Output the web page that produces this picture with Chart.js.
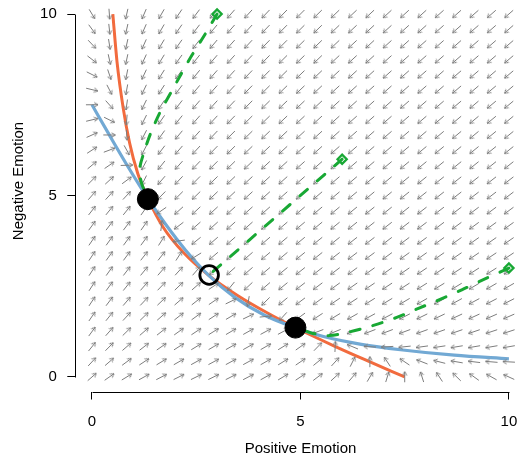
<!DOCTYPE html>
<html>
<head>
<meta charset="utf-8">
<script src="https://cdn.jsdelivr.net/npm/chart.js@4.4.1/dist/chart.umd.min.js"></script>
<style>
html,body{margin:0;padding:0;background:#ffffff;}
#wrap{width:521px;height:458px;position:relative;}
</style>
</head>
<body>
<div id="wrap"><canvas id="c" width="521" height="458"></canvas></div>
<script>
// ---- tick labels ----
const xTicks = [0, 5, 10];
const yTicks = [0, 5, 10];

// ---- positions of the flow-field arrows (25 x 25 grid) ----
const gridX = [0, 0.4167, 0.8333, 1.25, 1.6667, 2.0833, 2.5, 2.9167, 3.3333, 3.75, 4.1667, 4.5833, 5,
               5.4167, 5.8333, 6.25, 6.6667, 7.0833, 7.5, 7.9167, 8.3333, 8.75, 9.1667, 9.5833, 10];
const gridY = [0, 0.4167, 0.8333, 1.25, 1.6667, 2.0833, 2.5, 2.9167, 3.3333, 3.75, 4.1667, 4.5833, 5,
               5.4167, 5.8333, 6.25, 6.6667, 7.0833, 7.5, 7.9167, 8.3333, 8.75, 9.1667, 9.5833, 10];

// ---- model parameters (estimated from the nullclines) ----
const baseRate = 3.8;      // constant input
const selfExcite = 2.61;   // linear self term
const selfLimit = 0.415;   // quadratic self limitation
const crossInhib = 1.0;    // mutual inhibition
const saturation = 0.06;   // rate saturation

// ---- nullclines ----
const orangeX = [0.5, 0.6, 0.75, 0.9, 1.1, 1.35, 1.7, 2.2, 2.8, 3.5, 4.2, 4.9, 5.8, 6.6, 7.5];
const orangeY = [10, 8.69, 7.4, 6.46, 5.6, 4.9, 4.14, 3.42, 2.8, 2.24, 1.77, 1.35, 0.86, 0.45, 0];
const blueX = [0, 0.45, 0.86, 1.35, 1.77, 2.24, 2.8, 3.42, 4.14, 4.9, 5.6, 6.46, 7.4, 8.69, 10];
const blueY = [7.5, 6.6, 5.8, 4.9, 4.2, 3.5, 2.8, 2.2, 1.7, 1.35, 1.1, 0.9, 0.75, 0.6, 0.5];

// ---- trajectories ----
const traj1X = [3.0, 2.69, 2.4, 2.14, 1.89, 1.64, 1.42, 1.25, 1.14, 1.2, 1.3, 1.36];
const traj1Y = [10, 9.4, 8.87, 8.35, 7.83, 7.31, 6.75, 6.2, 5.7, 5.3, 5.05, 4.88];
const traj2X = [6.0, 5.2, 4.4, 3.6, 2.85];
const traj2Y = [6.0, 5.2, 4.4, 3.6, 2.85];
const traj3X = [10, 9.4, 8.87, 8.35, 7.83, 7.31, 6.75, 6.2, 5.7, 5.3, 5.05, 4.88];
const traj3Y = [3.0, 2.69, 2.4, 2.14, 1.89, 1.64, 1.42, 1.25, 1.14, 1.2, 1.3, 1.36];
const startX = [3, 6, 10];
const startY = [10, 6, 3];

// ---- equilibria ----
const stableX = [1.34, 4.88];
const stableY = [4.9, 1.36];
const saddleX = [2.81];
const saddleY = [2.81];

// ---- styles ----
const FONT = "'Liberation Sans', Arial, Helvetica, sans-serif";
const arrowColor = '#7d7d7d';
const orangeColor = '#f26b3e';
const blueColor = '#72a9d4';
const greenColor = '#18a834';
const arrowLen = 0.29;

function rate(a, b) {
  return (baseRate + selfExcite * a - selfLimit * a * a - crossInhib * a * b) / (1 + saturation * a);
}

const shaftData = [];
const headData = [];
const headDir = [];
gridX.forEach(function (x) {
  gridY.forEach(function (y) {
    const dx = rate(x, y), dy = rate(y, x);
    const n = Math.sqrt(dx * dx + dy * dy) || 1;
    const ux = dx / n, uy = dy / n;
    const h = arrowLen / 2;
    shaftData.push({x: x - h * ux, y: y - h * uy});
    shaftData.push({x: x + h * ux, y: y + h * uy});
    shaftData.push({x: x, y: null});
    headData.push({x: x + h * ux, y: y + h * uy});
    headDir.push([ux, uy]);
  });
});

function zip(xs, ys) { return xs.map(function (v, i) { return {x: v, y: ys[i]}; }); }

// arrow head image (tip at centre, pointing to +x)
const headImg = document.createElement('canvas');
headImg.width = 12; headImg.height = 12;
(function () {
  const g = headImg.getContext('2d');
  const L = 4, a = Math.PI / 6;
  g.strokeStyle = arrowColor; g.lineWidth = 1; g.lineCap = 'round';
  g.beginPath();
  g.moveTo(6 - L * Math.cos(a), 6 - L * Math.sin(a));
  g.lineTo(6, 6);
  g.lineTo(6 - L * Math.cos(a), 6 + L * Math.sin(a));
  g.stroke();
})();

function headRotation(c) {
  const sx = c.chart.scales.x, sy = c.chart.scales.y;
  const kx = sx.getPixelForValue(1) - sx.getPixelForValue(0);
  const ky = sy.getPixelForValue(1) - sy.getPixelForValue(0);
  const d = headDir[c.dataIndex] || [1, 0];
  return Math.atan2(d[1] * ky, d[0] * kx) * 180 / Math.PI;
}

const axisPlugin = {
  id: 'rAxes',
  afterLayout: function (chart) {
    // R-style: titles centred on the full plot region
    chart.scales.y.top = -29.5;
    chart.scales.x.right = 525.7;
  },
  afterDraw: function (chart) {
    const ctx = chart.ctx, sx = chart.scales.x, sy = chart.scales.y, ca = chart.chartArea;
    ctx.save();
    ctx.strokeStyle = '#000'; ctx.lineWidth = 1;
    ctx.beginPath();
    const yb = Math.round(ca.bottom) + 0.5;
    ctx.moveTo(Math.round(sx.getPixelForValue(xTicks[0])) + 0.5, yb);
    ctx.lineTo(Math.round(sx.getPixelForValue(xTicks[xTicks.length - 1])) + 0.5, yb);
    const xl = Math.round(ca.left) + 0.5;
    ctx.moveTo(xl, Math.round(sy.getPixelForValue(yTicks[0])) + 0.5);
    ctx.lineTo(xl, Math.round(sy.getPixelForValue(yTicks[yTicks.length - 1])) + 0.5);
    ctx.stroke();
    ctx.restore();
  }
};

const tickFont = {family: FONT, size: 15};

new Chart(document.getElementById('c'), {
  type: 'scatter',
  data: {
    datasets: [
      { label: 'stable', data: zip(stableX, stableY), pointRadius: 10.5, pointBorderWidth: 1,
        pointBackgroundColor: '#000', pointBorderColor: '#000', order: 0, clip: false },
      { label: 'saddle', data: zip(saddleX, saddleY), pointRadius: 9.3, pointBorderWidth: 2.8,
        pointBackgroundColor: 'rgba(0,0,0,0)', pointBorderColor: '#000', order: 1, clip: false },
      { label: 'start', data: zip(startX, startY), pointStyle: 'rectRot', pointRadius: 4.6, pointBorderWidth: 2.3,
        pointBackgroundColor: 'rgba(255,255,255,0)', pointBorderColor: greenColor, order: 2, clip: false },
      { label: 'traj1', data: zip(traj1X, traj1Y), showLine: true, borderColor: greenColor, borderWidth: 3,
        borderDash: [10, 13], borderCapStyle: 'round', pointRadius: 0, tension: 0.3, order: 3 },
      { label: 'traj2', data: zip(traj2X, traj2Y), showLine: true, borderColor: greenColor, borderWidth: 3,
        borderDash: [10, 13], borderCapStyle: 'round', pointRadius: 0, tension: 0, order: 3 },
      { label: 'traj3', data: zip(traj3X, traj3Y), showLine: true, borderColor: greenColor, borderWidth: 3,
        borderDash: [10, 13], borderCapStyle: 'round', pointRadius: 0, tension: 0.3, order: 3 },
      { label: 'heads', data: headData, pointStyle: headImg, pointRadius: 3, rotation: headRotation, order: 4 },
      { label: 'shafts', data: shaftData, showLine: true, spanGaps: false, borderColor: arrowColor,
        borderWidth: 1, pointRadius: 0, tension: 0, order: 5 },
      { label: 'blue', data: zip(blueX, blueY), showLine: true, borderColor: blueColor, borderWidth: 3.2,
        pointRadius: 0, cubicInterpolationMode: 'monotone', order: 6 },
      { label: 'orange', data: zip(orangeX, orangeY), showLine: true, borderColor: orangeColor, borderWidth: 3,
        pointRadius: 0, cubicInterpolationMode: 'monotone', order: 7 }
    ]
  },
  options: {
    responsive: false,
    animation: false,
    events: [],
    layout: { padding: 0, autoPadding: false },
    plugins: { legend: { display: false }, tooltip: { enabled: false } },
    scales: {
      x: {
        type: 'linear', min: -0.4, max: 10.29,
        afterBuildTicks: function (s) { s.ticks = xTicks.map(function (v) { return {value: v}; }); },
        afterFit: function (s) { s.height = 66.5; s.paddingLeft = 0; s.paddingRight = 0; },
        grid: { display: true, drawOnChartArea: false, drawTicks: true, tickLength: 8, color: '#000', lineWidth: 1 },
        border: { display: false },
        ticks: { color: '#000', font: tickFont, padding: 13, maxRotation: 0, autoSkip: false },
        title: { display: true, text: 'Positive Emotion', color: '#000', font: tickFont, padding: {top: 0, bottom: 0} }
      },
      y: {
        type: 'linear', min: -0.4, max: 10.386,
        afterBuildTicks: function (s) { s.ticks = yTicks.map(function (v) { return {value: v}; }); },
        afterFit: function (s) { s.width = 75.3; s.paddingTop = 0; s.paddingBottom = 0; },
        grid: { display: true, drawOnChartArea: false, drawTicks: true, tickLength: 8, color: '#000', lineWidth: 1 },
        border: { display: false },
        ticks: { color: '#000', font: tickFont, padding: 10.5, autoSkip: false },
        title: { display: true, text: 'Negative Emotion', color: '#000', font: tickFont, padding: {top: 9.5, bottom: 0} }
      }
    }
  },
  plugins: [axisPlugin]
});
</script>
</body>
</html>
